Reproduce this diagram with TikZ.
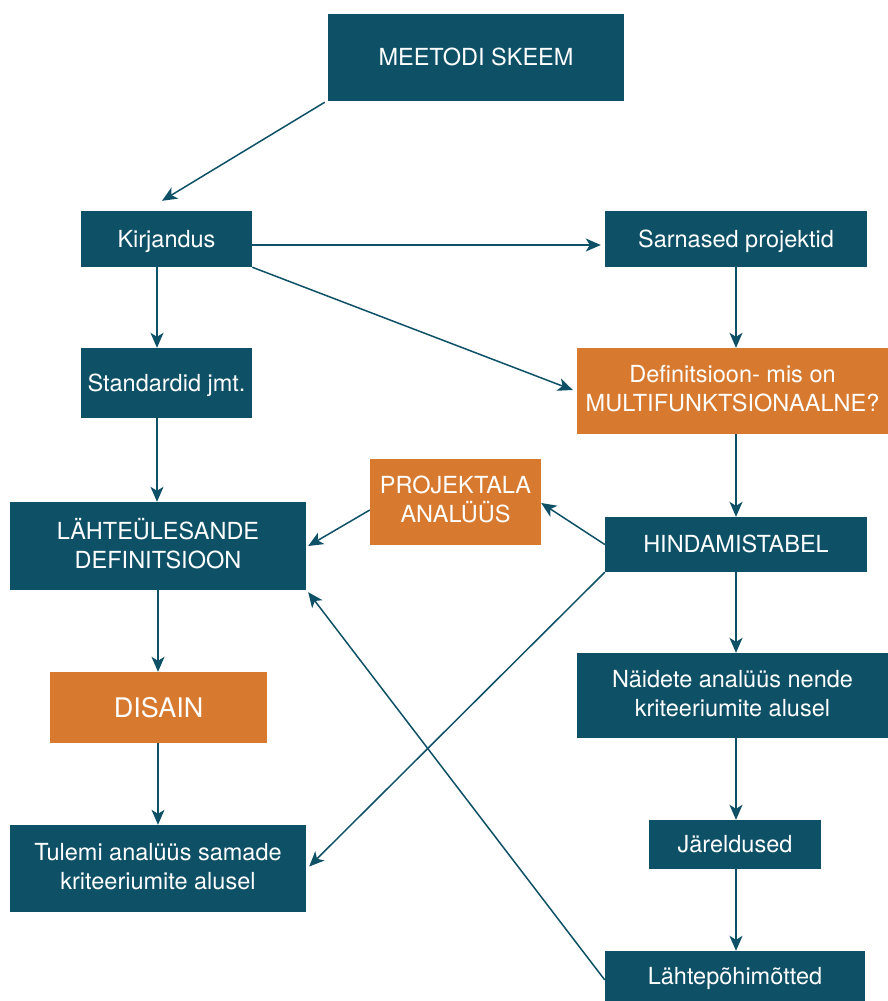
\documentclass[tikz,border=0pt]{standalone}
\usepackage{fontspec}
\setmainfont{TeX Gyre Heros}
\usetikzlibrary{arrows.meta}
\definecolor{teal}{HTML}{0E5066}
\definecolor{orng}{HTML}{D77A30}
\tikzset{
  box/.style={rectangle, fill=teal, text=white, inner sep=0pt, align=center,
    font=\fontsize{23.5}{29}\selectfont},
  obox/.style={box, fill=orng},
  one/.style={text height=16.5pt, text depth=0pt},
  two/.style={text depth=5pt},
  arr/.style={draw=teal, line width=1.5pt, -{Stealth[length=15pt,width=13pt,inset=4pt]}},
}
\begin{document}
\begin{tikzpicture}[x=1pt,y=-1pt]
\useasboundingbox (0,0) rectangle (888,1001);
\node[box, one, minimum width=296, minimum height=87] (meet) at (476,57.5) {MEETODI SKEEM};
\node[box, one, minimum width=171, minimum height=56] (kir) at (166.5,239) {Kirjandus};
\node[box, one, minimum width=262, minimum height=56] (sar) at (736,239) {Sarnased projektid};
\node[box, one, minimum width=171, minimum height=70] (std) at (166.5,383) {Standardid jmt.};
\node[obox, two, minimum width=311, minimum height=86] (def) at (732.5,391) {Definitsioon- mis on\\MULTIFUNKTSIONAALNE?};
\node[obox, two, minimum width=171, minimum height=86] (proj) at (455.5,502) {PROJEKTALA\\ANALÜÜS};
\node[box, two, minimum width=296, minimum height=88] (lah) at (158,546) {LÄHTEÜLESANDE\\DEFINITSIOON};
\node[box, one, minimum width=262, minimum height=55] (hind) at (736,544.5) {HINDAMISTABEL};
\node[obox, one, text height=19pt, minimum width=217, minimum height=71, font=\fontsize{27}{32}\selectfont] (dis) at (158.5,707.5) {DISAIN};
\node[box, two, minimum width=311, minimum height=85] (naid) at (732.5,695.5) {Näidete analüüs nende\\kriteeriumite alusel};
\node[box, one, minimum width=172, minimum height=49] (jar) at (735,844.5) {Järeldused};
\node[box, two, minimum width=296, minimum height=87] (tul) at (158,868.5) {Tulemi analüüs samade\\kriteeriumite alusel};
\node[box, one, minimum width=260, minimum height=50] (lp) at (735,976) {Lähtepõhimõtted};
% connectors
\draw[arr] ([xshift=-3pt,yshift=-1pt]meet.south west) -- ([xshift=-4.5pt,yshift=10pt]kir.north);
\draw[arr] ([yshift=-6pt]kir.east) -- ([xshift=-4pt,yshift=-6pt]sar.west);
\draw[arr] (kir.south east) -- ([xshift=-4pt,yshift=1pt]def.west);
\draw[arr] ([xshift=-9.5pt]kir.south) -- ([xshift=-9.5pt]std.north);
\draw[arr] (sar.south) -- ([xshift=3.5pt]def.north);
\draw[arr] ([xshift=-9.5pt]std.south) -- ([xshift=-1pt]lah.north);
\draw[arr] ([xshift=3.5pt]def.south) -- (hind.north);
\draw[arr] (hind.west) -- ([yshift=-1pt]proj.east);
\draw[arr] ([yshift=-8pt]proj.west) -- ([xshift=2pt]lah.east);
\draw[arr] (hind.south west) -- ([xshift=3pt,yshift=2pt]tul.east);
\draw[arr] (hind.south) -- ([xshift=3.5pt]naid.north);
\draw[arr] (lah.south) -- ([xshift=-0.5pt]dis.north);
\draw[arr] ([xshift=-0.5pt]dis.south) -- (tul.north);
\draw[arr] ([xshift=3.5pt]naid.south) -- ([xshift=1pt]jar.north);
\draw[arr] ([xshift=1pt]jar.south) -- ([xshift=1pt]lp.north);
\draw[arr] ([yshift=-4pt]lp.west) -- ([xshift=2pt,yshift=-2pt]lah.south east);
\end{tikzpicture}
\end{document}
